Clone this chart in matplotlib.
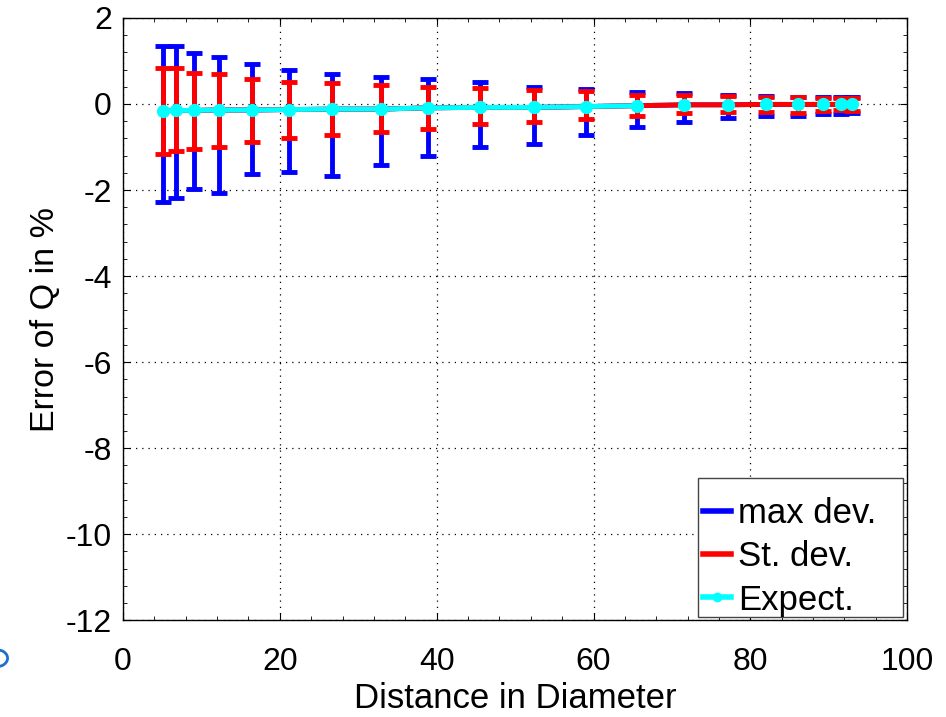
import matplotlib
matplotlib.use('Agg')
import matplotlib.pyplot as plt
from matplotlib.ticker import MultipleLocator
from matplotlib.lines import Line2D
from matplotlib.patches import Circle, Rectangle
import numpy as np

plt.rcParams['font.family'] = ['Liberation Sans', 'DejaVu Sans']
plt.rcParams['axes.unicode_minus'] = False

# Data
distance = [5.1, 6.7, 9.0, 12.2, 16.5, 21.2, 26.7, 32.9, 38.9, 45.5,
            52.4, 59.1, 65.5, 71.6, 77.1, 82.0, 86.1, 89.3, 91.5, 92.9]
expect = [-0.16, -0.15, -0.15, -0.14, -0.14, -0.13, -0.12, -0.12, -0.09, -0.08,
          -0.08, -0.06, -0.04, -0.02, -0.02, -0.01, -0.01, -0.01, -0.01, -0.01]
max_top = [1.35, 1.35, 1.19, 1.09, 0.92, 0.78, 0.70, 0.62, 0.58, 0.50,
           0.40, 0.34, 0.28, 0.25, 0.22, 0.19, 0.17, 0.17, 0.16, 0.16]
max_bot = [-2.29, -2.18, -1.98, -2.08, -1.63, -1.58, -1.67, -1.43, -1.22, -1.00,
           -0.92, -0.71, -0.53, -0.41, -0.33, -0.28, -0.27, -0.24, -0.23, -0.22]
std_top = [0.84, 0.83, 0.71, 0.69, 0.57, 0.50, 0.48, 0.44, 0.40, 0.36,
           0.33, 0.31, 0.22, 0.21, 0.18, 0.17, 0.16, 0.15, 0.14, 0.15]
std_bot = [-1.16, -1.09, -1.05, -0.99, -0.88, -0.80, -0.73, -0.66, -0.58, -0.47,
           -0.42, -0.35, -0.27, -0.22, -0.19, -0.18, -0.20, -0.16, -0.15, -0.16]
labels = ['max dev.', 'St. dev.', 'Expect.']
n_line = 13  # the cyan line stops at x = 65.5, markers continue

x = np.array(distance)
e = np.array(expect)

fig = plt.figure(figsize=(9.46, 7.17), dpi=100)
ax = fig.add_axes([0.130, 0.135, 0.829, 0.840])

ax.errorbar(x, e, yerr=[e - np.array(max_bot), np.array(max_top) - e],
            color='#0000ff', lw=3.5, elinewidth=3.5, capsize=5.5, capthick=3.5,
            zorder=2)
ax.errorbar(x, e, yerr=[e - np.array(std_bot), np.array(std_top) - e],
            color='#ff0000', lw=3.5, elinewidth=3.5, capsize=5.5, capthick=3.5,
            zorder=3)
ax.plot(x[:n_line], e[:n_line], color='#00ffff', lw=3.5, zorder=4)
ax.plot(x, e, color='#00ffff', lw=0, marker='o', ms=8.5, zorder=5)

ax.set_xlim(0, 100)
ax.set_ylim(-12, 2)
ax.xaxis.set_major_locator(MultipleLocator(20))
ax.xaxis.set_minor_locator(MultipleLocator(4))
ax.yaxis.set_major_locator(MultipleLocator(2))
ax.yaxis.set_minor_locator(MultipleLocator(0.4))
ax.tick_params(which='both', direction='in', top=True, right=True,
               labelsize=23)
ax.tick_params(axis='y', pad=8)
ax.tick_params(axis='x', pad=19)
ax.tick_params(which='major', length=5)
ax.tick_params(which='minor', length=3)
ax.grid(True, which='major', color='black', linestyle=(0, (1, 4)), lw=0.9)
for s in ax.spines.values():
    s.set_linewidth(1.0)

ax.set_xlabel('Distance in Diameter', fontsize=25, labelpad=4)
ax.set_ylabel('Error of Q in %', fontsize=24.5, labelpad=3)

# legend frame (MATLAB style: text sits low, wide right margin)
ax.add_patch(Rectangle((0.733, 0.005), 0.262, 0.231, transform=ax.transAxes,
                       facecolor='white', edgecolor='#444444', lw=1.0,
                       zorder=6))
handles = [Line2D([], [], color='#0000ff', lw=4),
           Line2D([], [], color='#ff0000', lw=4),
           Line2D([], [], color='#00ffff', lw=4, marker='o', ms=6)]
leg = ax.legend(handles, labels, loc='upper left',
                bbox_to_anchor=(0.740, 0.205), fontsize=25, handlelength=0.8,
                handletextpad=0.2, borderaxespad=0, labelspacing=0.3,
                frameon=False, borderpad=0)
leg.set_zorder(7)

# small blue arc cut by the left edge of the picture
fig.patches.append(Circle((-0.004, 0.082), 0.012, transform=fig.transFigure,
                          fill=False, edgecolor='#1f6fd0', lw=2))

fig.savefig('out.png', dpi=100)
